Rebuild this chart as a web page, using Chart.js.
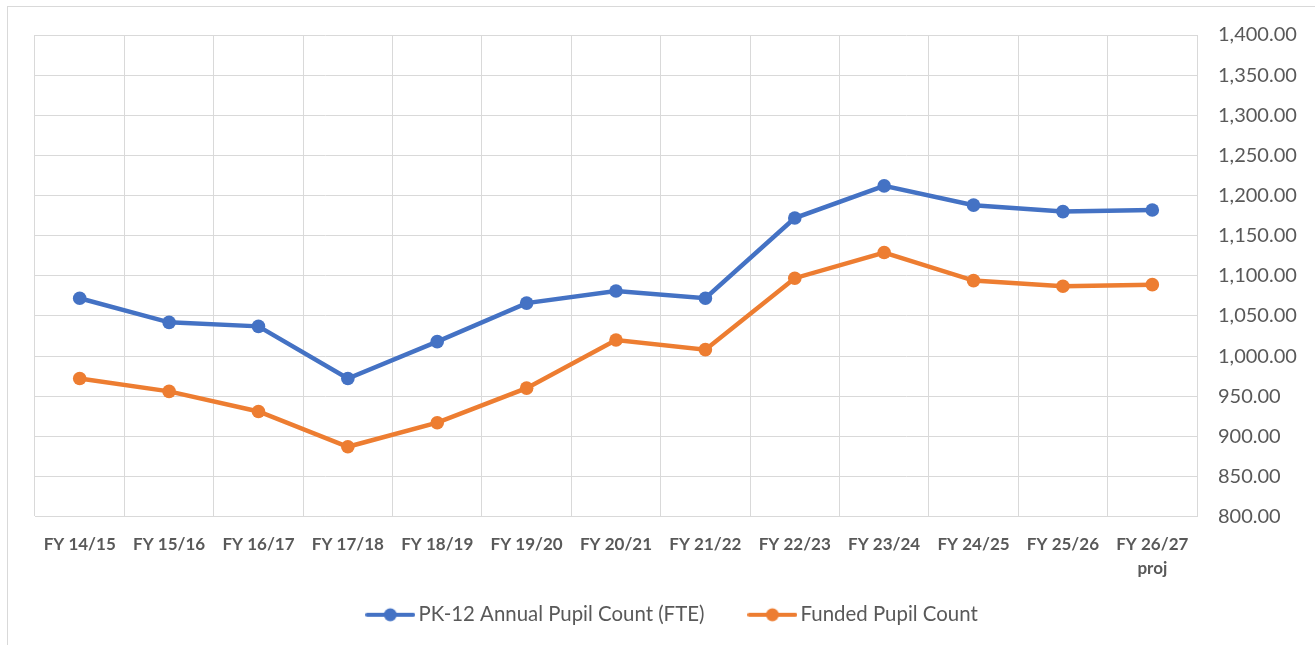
<!DOCTYPE html>
<html>
<head>
<meta charset="utf-8">
<script src="https://cdn.jsdelivr.net/npm/chart.js@4.4.1/dist/chart.umd.min.js"></script>
<style>
html,body{margin:0;padding:0;background:#fff;}
#wrap{position:relative;width:1315px;height:645px;}
</style>
</head>
<body>
<div id="wrap"><canvas id="c" width="1315" height="645"></canvas></div>
<script>
const categories = ["FY 14/15","FY 15/16","FY 16/17","FY 17/18","FY 18/19","FY 19/20","FY 20/21","FY 21/22","FY 22/23","FY 23/24","FY 24/25","FY 25/26",["FY 26/27","proj"]];
const pk12Annual = [1072,1042,1037,972,1018,1066,1081,1072,1172,1212,1188,1180,1182];
const fundedCount = [972,956,931,887,917,960,1020,1008,1097,1129,1094,1087,1089];
const seriesNames = ["PK-12 Annual Pupil Count (FTE)","Funded Pupil Count"];
const yMin = 800, yMax = 1400, yStep = 50;

const BLUE = '#4472C4', ORANGE = '#ED7D31', GRID = '#D9D9D9', TEXT = '#595959';
const FONT = 'Lato, "Open Sans", sans-serif';

function legendIcon(color){
  const cv = document.createElement('canvas');
  cv.width = 50; cv.height = 16;
  const g = cv.getContext('2d');
  g.strokeStyle = color; g.lineWidth = 4; g.lineCap = 'round';
  g.beginPath(); g.moveTo(2,8); g.lineTo(48,8); g.stroke();
  g.fillStyle = color; g.beginPath(); g.arc(25,8,6.5,0,Math.PI*2); g.fill();
  return cv;
}
const icons = [legendIcon(BLUE), legendIcon(ORANGE)];

const outerBorder = {
  id:'outerBorder',
  beforeDraw(chart){
    const ctx = chart.ctx;
    ctx.save();
    ctx.strokeStyle = GRID; ctx.lineWidth = 1;
    ctx.strokeRect(7.5, 6.5, 1400, 800);
    ctx.restore();
  },
  afterLayout(chart){
    // let the two-line category label extend below the axis box without being clipped
    chart.scales.x.bottom = chart.height;
  }
};

new Chart(document.getElementById('c'), {
  type:'line',
  data:{
    labels: categories,
    datasets:[
      {label:seriesNames[0], data:pk12Annual, borderColor:BLUE, backgroundColor:BLUE, borderWidth:4.5, pointRadius:6.8, pointHoverRadius:6.8, pointBorderWidth:0, tension:0},
      {label:seriesNames[1], data:fundedCount, borderColor:ORANGE, backgroundColor:ORANGE, borderWidth:4.5, pointRadius:6.8, pointHoverRadius:6.8, pointBorderWidth:0, tension:0}
    ]
  },
  options:{
    responsive:false,
    animation:false,
    layout:{padding:{left:35, top:35, right:0, bottom:10}},
    plugins:{
      tooltip:{enabled:false},
      legend:{
        position:'bottom',
        labels:{
          usePointStyle:true,
          pointStyleWidth:36,
          padding:50,
          color:TEXT,
          font:{family:FONT, size:20.4},
          generateLabels(chart){
            return chart.data.datasets.map((d,i)=>({
              text:d.label, fillStyle:d.borderColor, strokeStyle:d.borderColor,
              lineWidth:0, pointStyle:icons[i], datasetIndex:i, hidden:false, fontColor:TEXT
            }));
          }
        }
      }
    },
    scales:{
      x:{
        offset:true,
        grid:{offset:true, color:GRID, lineWidth:1, drawTicks:false},
        border:{color:GRID, width:1},
        ticks:{color:TEXT, font:{family:FONT, size:17, weight:'bold', lineHeight:1.4}, padding:16, maxRotation:0, autoSkip:false},
        afterFit(s){ s.height = 38; }
      },
      y:{
        position:'right',
        min:yMin, max:yMax,
        grid:{color:GRID, lineWidth:1, drawTicks:false},
        border:{display:false},
        ticks:{stepSize:yStep, color:TEXT, font:{family:FONT, size:20}, padding:21,
          callback:v=>v.toLocaleString('en-US',{minimumFractionDigits:2, maximumFractionDigits:2})},
        afterFit(s){ s.width = 118; }
      }
    }
  },
  plugins:[outerBorder]
});
</script>
</body>
</html>
